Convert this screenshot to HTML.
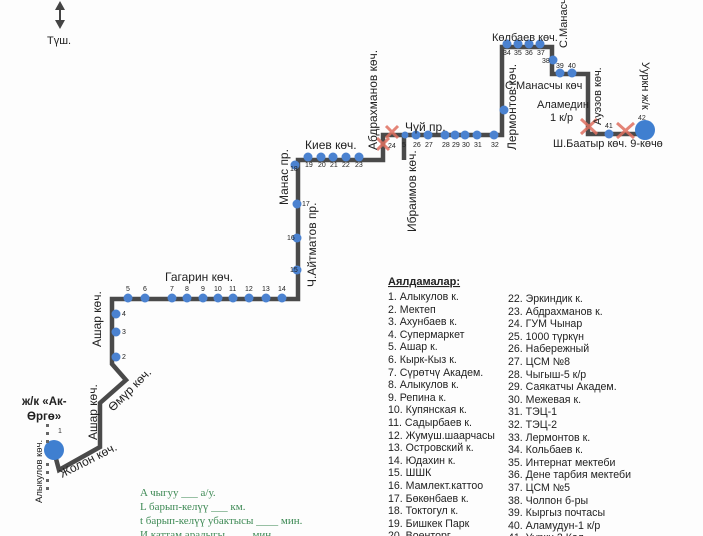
<!DOCTYPE html>
<html><head><meta charset="utf-8"><style>
body{margin:0;background:#fff;}
svg{display:block;}
text{font-family:"Liberation Sans","DejaVu Sans",sans-serif;fill:#222;}
.s{font-size:7px;fill:#333;}
.l{font-size:12px;}
.g{font-size:11px;}
.gr{font-family:"Liberation Serif",serif;font-size:11px;fill:#3e8a55;}
</style></head><body>
<svg width="703" height="536" viewBox="0 0 703 536" xmlns="http://www.w3.org/2000/svg">
<rect width="703" height="536" fill="#fdfdfd"/>
<!-- compass -->
<line x1="60" y1="5" x2="60" y2="25" stroke="#444" stroke-width="2"/>
<polygon points="55,10 65,10 60,1" fill="#444"/>
<polygon points="55,20 65,20 60,29" fill="#444"/>
<text x="47" y="44" class="g">Түш.</text>

<!-- route -->
<polyline fill="none" stroke="#4a4a4a" stroke-width="4.5" stroke-linejoin="miter"
 points="55,455 59,470 100,447 100,403 126,380 112,364 112,299 298,299 298,160 383,160 383,135 404,135 404,160 404,135 502,135 502,47 552,47 552,74 588,74 588,134 640,134"/>

<!-- start -->
<circle cx="54" cy="450" r="10" fill="#3f7fd0"/>
<g fill="#666"><rect x="46" y="424" width="3" height="3"/><rect x="46" y="432" width="3" height="3"/><rect x="46" y="440" width="3" height="3"/><rect x="46" y="463" width="3" height="3"/><rect x="46" y="471" width="3" height="3"/><rect x="46" y="479" width="3" height="3"/><rect x="46" y="487" width="3" height="3"/></g>
<text x="58" y="433" class="s">1</text>
<circle cx="645" cy="130" r="10" fill="#3f7fd0"/>
<text x="638" y="120" class="s">42</text>

<!-- stops -->
<g fill="#4b82d0">
<circle cx="116" cy="357" r="4.5"/><circle cx="116" cy="332" r="4.5"/><circle cx="116" cy="314" r="4.5"/>
<circle cx="128" cy="298" r="4.5"/><circle cx="145" cy="298" r="4.5"/><circle cx="172" cy="298" r="4.5"/><circle cx="187" cy="298" r="4.5"/><circle cx="203" cy="298" r="4.5"/><circle cx="218" cy="298" r="4.5"/><circle cx="233" cy="298" r="4.5"/><circle cx="249" cy="298" r="4.5"/><circle cx="266" cy="298" r="4.5"/><circle cx="282" cy="298" r="4.5"/>
<circle cx="297" cy="270" r="4.5"/><circle cx="297" cy="238" r="4.5"/><circle cx="297" cy="204" r="4.5"/><circle cx="295" cy="165" r="4.5"/>
<circle cx="308" cy="157" r="4.5"/><circle cx="321" cy="157" r="4.5"/><circle cx="333" cy="157" r="4.5"/><circle cx="346" cy="157" r="4.5"/><circle cx="359" cy="157" r="4.5"/>
<circle cx="405" cy="135" r="3.5"/><circle cx="416" cy="135" r="4.5"/><circle cx="428" cy="135" r="4.5"/><circle cx="445" cy="135" r="4.5"/><circle cx="455" cy="135" r="4.5"/><circle cx="465" cy="135" r="4.5"/><circle cx="477" cy="135" r="4.5"/><circle cx="494" cy="135" r="4.5"/>
<circle cx="504" cy="110" r="4.5"/>
<circle cx="507" cy="44" r="4.5"/><circle cx="518" cy="44" r="4.5"/><circle cx="529" cy="44" r="4.5"/><circle cx="540" cy="44" r="4.5"/>
<circle cx="553" cy="60" r="4.5"/><circle cx="560" cy="73" r="4.5"/><circle cx="572" cy="73" r="4.5"/><circle cx="609" cy="134" r="4.5"/>
</g>
<!-- stop numbers -->
<g class="s">
<text x="122" y="359">2</text><text x="122" y="334">3</text><text x="122" y="316">4</text>
<text x="126" y="291">5</text><text x="143" y="291">6</text><text x="170" y="291">7</text><text x="185" y="291">8</text><text x="201" y="291">9</text><text x="214" y="291">10</text><text x="229" y="291">11</text><text x="245" y="291">12</text><text x="262" y="291">13</text><text x="278" y="291">14</text>
<text x="290" y="272">15</text><text x="287" y="240">16</text><text x="302" y="206">17</text><text x="290" y="171">18</text>
<text x="305" y="167">19</text><text x="318" y="167">20</text><text x="330" y="167">21</text><text x="342" y="167">22</text><text x="355" y="167">23</text>
<text x="388" y="148">24</text><text x="402" y="147">5</text><text x="413" y="147">26</text><text x="425" y="147">27</text><text x="442" y="147">28</text><text x="452" y="147">29</text><text x="462" y="147">30</text><text x="474" y="147">31</text><text x="491" y="147">32</text>
<text x="503" y="55">34</text><text x="514" y="55">35</text><text x="525" y="55">36</text><text x="537" y="55">37</text><text x="542" y="63">38</text><text x="556" y="68">39</text><text x="568" y="68">40</text><text x="605" y="128">41</text>
</g>
<!-- red X -->
<g stroke="#e07060" stroke-width="3" opacity="0.85">
<line x1="377" y1="138" x2="389" y2="150"/><line x1="389" y1="138" x2="377" y2="150"/>
<line x1="386" y1="126" x2="398" y2="138"/><line x1="398" y1="126" x2="386" y2="138"/>
<line x1="581" y1="119" x2="597" y2="134"/><line x1="597" y1="119" x2="581" y2="134"/>
<line x1="617" y1="123" x2="634" y2="138"/><line x1="634" y1="123" x2="617" y2="138"/>
</g>

<!-- street labels -->
<text x="165" y="281" class="l">Гагарин  көч.</text>
<text x="305" y="149" class="l">Киев көч.</text>
<text x="405" y="131" class="l">Чүй пр.</text>
<text x="492" y="41" class="g">Көлбаев көч.</text>
<text x="505" y="89" class="g">С.Манасчы көч</text>
<text x="537" y="108" class="g">Аламедин</text>
<text x="550" y="121" class="g">1 к/р</text>
<text x="553" y="147" class="g">Ш.Баатыр көч. 9-көчө</text>
<text x="22" y="405" font-size="11.5" font-weight="bold">ж/к «Ак-</text>
<text x="27" y="420" font-size="11.5" font-weight="bold">Өргө»</text>
<text transform="translate(377,150) rotate(-90)" class="l">Абдрахманов  көч.</text>
<text transform="translate(416,232) rotate(-90)" class="l">Ибраимов көч.</text>
<text transform="translate(516,150) rotate(-90)" class="l">Лермонтов көч.</text>
<text transform="translate(567,48) rotate(-90)" class="g">С.Манасчы</text>
<text transform="translate(601,125) rotate(-90)" class="g">Ауэзов көч.</text>
<text transform="translate(642,62) rotate(90)" class="g">Ууркн ж/к</text>
<text transform="translate(288,205) rotate(-90)" class="l">Манас пр.</text>
<text transform="translate(316,287) rotate(-90)" class="l">Ч.Айтматов пр.</text>
<text transform="translate(101,347) rotate(-90)" class="l">Ашар көч.</text>
<text transform="translate(97,440) rotate(-90)" class="l">Ашар көч.</text>
<text transform="translate(113,412) rotate(-45)" class="l">Өмүр көч.</text>
<text transform="translate(62,478) rotate(-27)" class="l">Жолон көч.</text>
<text transform="translate(42,503) rotate(-90)" font-size="9.5">Алыкулов көч.</text>

<!-- legend -->
<text x="388" y="285" font-size="11" font-weight="bold" text-decoration="underline">Аялдамалар:</text>
<g font-size="10.6" fill="#333">
<text x="388" y="300">1. Алыкулов к.</text>
<text x="388" y="313">2. Мектеп</text>
<text x="388" y="325">3. Ахунбаев к.</text>
<text x="388" y="338">4. Супермаркет</text>
<text x="388" y="350">5. Ашар к.</text>
<text x="388" y="363">6. Кырк-Кыз к.</text>
<text x="388" y="376">7. Сүрөтчү Академ.</text>
<text x="388" y="388">8. Алыкулов к.</text>
<text x="388" y="401">9. Репина к.</text>
<text x="388" y="413">10. Купянская к.</text>
<text x="388" y="426">11. Садырбаев к.</text>
<text x="388" y="439">12. Жумуш.шаарчасы</text>
<text x="388" y="451">13. Островский к.</text>
<text x="388" y="464">14. Юдахин к.</text>
<text x="388" y="476">15. ШШК</text>
<text x="388" y="489">16. Мамлект.каттоо</text>
<text x="388" y="502">17. Бөкөнбаев к.</text>
<text x="388" y="514">18. Токтогул к.</text>
<text x="388" y="527">19. Бишкек Парк</text>
<text x="388" y="539">20. Военторг</text>
<text x="508" y="302">22. Эркиндик к.</text>
<text x="508" y="315">23. Абдрахманов к.</text>
<text x="508" y="327">24. ГУМ Чынар</text>
<text x="508" y="340">25. 1000 түркүн</text>
<text x="508" y="352">26. Набережный</text>
<text x="508" y="365">27. ЦСМ №8</text>
<text x="508" y="378">28. Чыгыш-5 к/р</text>
<text x="508" y="390">29. Саякатчы Академ.</text>
<text x="508" y="403">30. Межевая к.</text>
<text x="508" y="415">31. ТЭЦ-1</text>
<text x="508" y="428">32. ТЭЦ-2</text>
<text x="508" y="441">33. Лермонтов к.</text>
<text x="508" y="453">34. Кольбаев к.</text>
<text x="508" y="466">35. Интернат мектеби</text>
<text x="508" y="478">36. Дене тарбия мектеби</text>
<text x="508" y="491">37. ЦСМ №5</text>
<text x="508" y="504">38. Чолпон б-ры</text>
<text x="508" y="516">39. Кыргыз почтасы</text>
<text x="508" y="529">40. Аламудун-1 к/р</text>
<text x="508" y="541">41. Ууркн 2 Кол</text>
</g>
<text x="140" y="496" class="gr">A чыгуу ___  а/у.</text>
<text x="140" y="510" class="gr">L барып-келүү ___ км.</text>
<text x="140" y="524" class="gr">t барып-келүү убактысы ____ мин.</text>
<text x="140" y="538" class="gr">И каттам аралыгы ____ мин.</text>
</svg>
</body></html>
